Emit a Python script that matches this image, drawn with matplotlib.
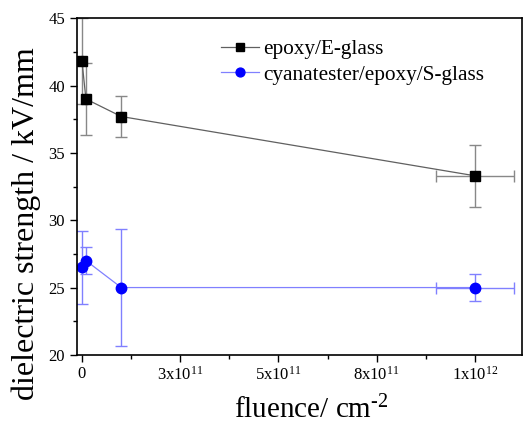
import matplotlib
matplotlib.use("Agg")
import matplotlib.pyplot as plt
from matplotlib.ticker import FixedLocator, FixedFormatter, MultipleLocator

plt.rcParams['font.family'] = ['Liberation Serif', 'DejaVu Serif']
plt.rcParams['mathtext.fontset'] = 'custom'
plt.rcParams['mathtext.rm'] = 'Liberation Serif'
plt.rcParams['mathtext.it'] = 'Liberation Serif:italic'

# epoxy/E-glass
fluence_e = [0.0, 1.0e10, 1.0e11, 1.0e12]
strength_e = [41.8, 39.0, 37.7, 33.3]
err_e = [3.2, 2.7, 1.5, 2.3]
xerr_e = [0.0, 0.0, 0.0, 1.0e11]

# cyanatester/epoxy/S-glass
fluence_s = [0.0, 1.0e10, 1.0e11, 1.0e12]
strength_s = [26.5, 27.0, 25.0, 25.0]
err_s = [2.7, 1.0, 4.35, 1.0]
xerr_s = [0.0, 0.0, 0.0, 1.0e11]

xtick_pos = [0, 2.5e11, 5e11, 7.5e11, 1e12]
xtick_labels = ['0', r'$\mathregular{3x10^{11}}$', r'$\mathregular{5x10^{11}}$',
                r'$\mathregular{8x10^{11}}$', r'$\mathregular{1x10^{12}}$']

fig = plt.figure(figsize=(5.23, 4.23), dpi=100)
ax = fig.add_axes([0.147, 0.161, 0.851, 0.796])

ax.errorbar(fluence_e, strength_e, yerr=err_e, xerr=xerr_e, color='#606060',
            ecolor='#888888', elinewidth=1.0, capsize=4, capthick=1.0, lw=0.9,
            marker='s', markersize=6.5, markerfacecolor='black', markeredgecolor='black',
            label='epoxy/E-glass')
ax.errorbar(fluence_s, strength_s, yerr=err_s, xerr=xerr_s, color='#8080ff',
            ecolor='#8080ff', elinewidth=1.0, capsize=4, capthick=1.0, lw=0.9,
            marker='o', markersize=7.5, markerfacecolor='#0000ff', markeredgecolor='#0000ff',
            label='cyanatester/epoxy/S-glass')

ax.set_xlim(-1.3e10, 1.12e12)
ax.set_ylim(20, 45)
ax.xaxis.set_major_locator(FixedLocator(xtick_pos))
ax.xaxis.set_major_formatter(FixedFormatter(xtick_labels))
ax.xaxis.set_minor_locator(MultipleLocator(1.25e11))
ax.yaxis.set_major_locator(MultipleLocator(5))
ax.yaxis.set_minor_locator(MultipleLocator(2.5))
ax.tick_params(which='major', direction='out', length=5, width=1.0, labelsize=12)
ax.tick_params(which='minor', direction='out', length=3, width=1.0)
ax.tick_params(axis='x', pad=3)
for s in ax.spines.values():
    s.set_linewidth(1.2)

ax.set_xlabel(r'fluence/ cm$^{\text{-2}}$', fontsize=21)
ax.xaxis.set_label_coords(0.526, -0.12)
ax.set_ylabel('dielectric strength / kV/mm', fontsize=23)
ax.yaxis.set_label_coords(-0.08, 0.39)

handles, labels = ax.get_legend_handles_labels()
handles = [h[0] for h in handles]
ax.legend(handles, labels, loc='upper left', bbox_to_anchor=(0.30, 0.968), frameon=False,
          fontsize=15.3, handlelength=1.8, handletextpad=0.2, labelspacing=0.25, borderpad=0,
          markerscale=0.85)

fig.savefig('out.png', dpi=100)
